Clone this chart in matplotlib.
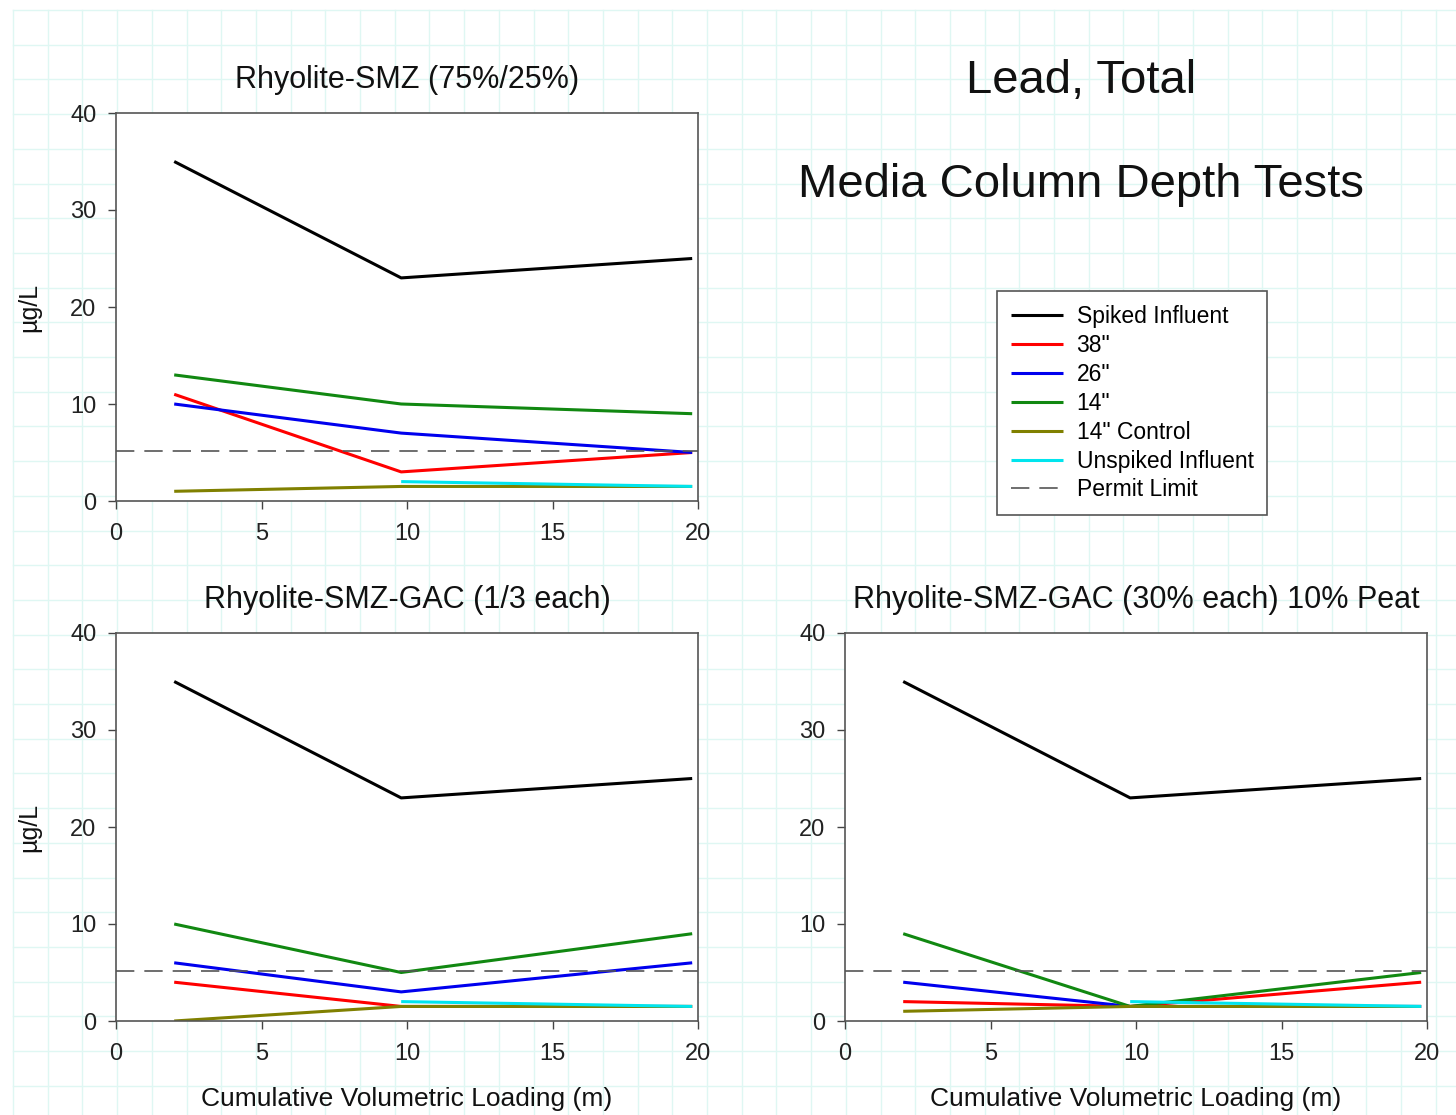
import numpy as np
import matplotlib
matplotlib.use('Agg')
import matplotlib.pyplot as plt

plt.rcParams['font.family'] = ['Liberation Sans', 'DejaVu Sans']

# cumulative volumetric loading (m)
x_load = [2.0, 9.8, 19.8]

permit_limit = 5.2

# Rhyolite-SMZ (75%/25%)
smz_spiked   = [35, 23, 25]
smz_38       = [11, 3, 5]
smz_26       = [10, 7, 5]
smz_14       = [13, 10, 9]
smz_14ctrl   = [1, 1.5, 1.5]
smz_unspiked = [np.nan, 2, 1.5]

# Rhyolite-SMZ-GAC (1/3 each)
gac_spiked   = [35, 23, 25]
gac_38       = [4, 1.5, 1.5]
gac_26       = [6, 3, 6]
gac_14       = [10, 5, 9]
gac_14ctrl   = [0, 1.5, 1.5]
gac_unspiked = [np.nan, 2, 1.5]

# Rhyolite-SMZ-GAC (30% each) 10% Peat
peat_spiked   = [35, 23, 25]
peat_38       = [2, 1.5, 4]
peat_26       = [4, 1.5, 1.5]
peat_14       = [9, 1.5, 5]
peat_14ctrl   = [1, 1.5, 1.5]
peat_unspiked = [np.nan, 2, 1.5]

labels = ['Spiked Influent', '38"', '26"', '14"', '14" Control', 'Unspiked Influent']
colors = ['black', '#ff0000', '#0000ee', '#118811', '#808000', '#00e5ee']

W, H = 1456, 1115
fig = plt.figure(figsize=(W/100, H/100), dpi=100)
fig.patch.set_facecolor('white')

# graph paper background
bg = fig.add_axes([0, 0, 1, 1], zorder=-5)
bg.set_xlim(0, W)
bg.set_ylim(H, 0)
bg.axis('off')
for gx in np.arange(13, W, 34.7):
    bg.axvline(gx, color='#dff7f3', lw=1.0, ymin=0.0, ymax=1-10/H)
for gy in np.arange(10, H, 34.7):
    bg.axhline(gy, color='#dff7f3', lw=1.0, xmin=13/W, xmax=1.0)

tama = 17

def panel(rect, series, title, xlabel=None, ylabel=None):
    ax = fig.add_axes(rect)
    ax.set_facecolor('white')
    for vals, c, lab in zip(series, colors, labels):
        ax.plot(x_load, vals, color=c, lw=2.2, label=lab, solid_capstyle='butt')
    ax.axhline(permit_limit, color='#555555', lw=1.2, dashes=(11, 6), label='Permit Limit')
    ax.set_xlim(0, 20)
    ax.set_ylim(0, 40)
    ax.set_xticks([0, 5, 10, 15, 20])
    ax.set_yticks([0, 10, 20, 30, 40])
    ax.tick_params(direction='out', length=6, width=1, color='#444444', labelsize=tama,
                   labelcolor='#222222')
    ax.tick_params(axis='y', pad=8)
    ax.tick_params(axis='x', pad=10)
    for sp in ax.spines.values():
        sp.set_color('#555555')
        sp.set_linewidth(1.2)
    ax.set_title(title, fontsize=22, pad=18, color='#111111')
    if xlabel:
        ax.set_xlabel(xlabel, fontsize=19, labelpad=16, color='#111111')
    if ylabel:
        ax.set_ylabel(ylabel, fontsize=18, labelpad=21, color='#111111')
    return ax

aw, ah = 582/W, 388/H
ax1 = panel([116/W, 1-501/H, aw, ah],
            [smz_spiked, smz_38, smz_26, smz_14, smz_14ctrl, smz_unspiked],
            'Rhyolite-SMZ (75%/25%)', ylabel='µg/L')
ax2 = panel([116/W, 1-1021/H, aw, ah],
            [gac_spiked, gac_38, gac_26, gac_14, gac_14ctrl, gac_unspiked],
            'Rhyolite-SMZ-GAC (1/3 each)', xlabel='Cumulative Volumetric Loading (m)', ylabel='µg/L')
ax3 = panel([845/W, 1-1021/H, aw, ah],
            [peat_spiked, peat_38, peat_26, peat_14, peat_14ctrl, peat_unspiked],
            'Rhyolite-SMZ-GAC (30% each) 10% Peat', xlabel='Cumulative Volumetric Loading (m)')

fig.text(1081/W, 1-81/H, 'Lead, Total', fontsize=34, ha='center', va='center', color='#111111')
fig.text(1081/W, 1-185/H, 'Media Column Depth Tests', fontsize=34, ha='center', va='center', color='#111111')

handles, labs = ax1.get_legend_handles_labels()
leg = fig.legend(handles, labs, loc='upper left', bbox_to_anchor=(997/W, 1-291/H),
                 borderaxespad=0, fontsize=16.5, handlelength=2.3, labelspacing=0.26,
                 handletextpad=0.57, borderpad=0.6, fancybox=False, framealpha=1,
                 edgecolor='#555555')
leg.get_frame().set_linewidth(1.2)

fig.savefig('out.png', dpi=100)
